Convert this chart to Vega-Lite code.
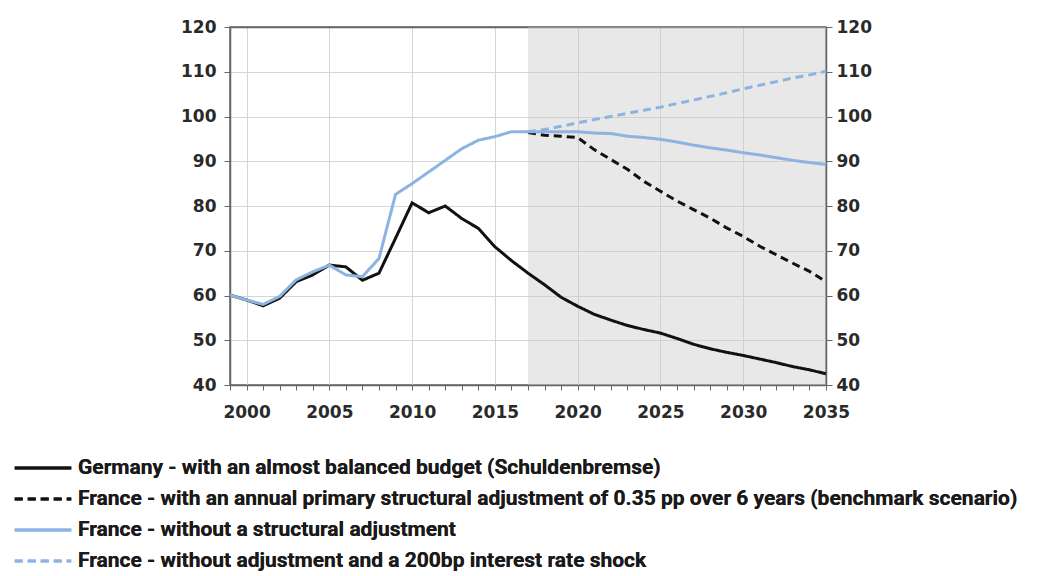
{
  "$schema": "https://vega.github.io/schema/vega-lite/v6.json",
  "width": 596,
  "height": 358,
  "autosize": {"type": "none"},
  "padding": {"left": 230, "top": 27, "right": 215, "bottom": 191},
  "background": "white",
  "config": {
    "view": {"stroke": "#666666", "strokeWidth": 1.5},
    "font": "DejaVu Sans",
    "axis": {
      "labelFont": "DejaVu Sans",
      "labelFontSize": 17,
      "labelFontWeight": "bold",
      "labelColor": "#2a2a2a",
      "domainColor": "#666666",
      "domainWidth": 1.5,
      "tickColor": "#666666",
      "gridColor": "#d6d6d6",
      "gridWidth": 1,
      "title": null
    },
    "legend": {
      "orient": "none",
      "legendX": -203,
      "legendY": 425,
      "direction": "vertical",
      "title": null,
      "symbolType": "M-2,0H2",
      "symbolSize": 800,
      "symbolStrokeWidth": 3,
      "labelFont": "Roboto",
      "labelFontSize": 21,
      "labelFontWeight": "bold",
      "labelColor": "#1a1a1a",
      "labelLimit": 1200,
      "labelOffset": 19,
      "rowPadding": 5
    }
  },
  "datasets": {
    "shade": [{"start": 2017, "end": 2035}],
    "debt": [
      {"year": 1999, "series": "Germany - with an almost balanced budget (Schuldenbremse)", "value": 60.1},
      {"year": 2000, "series": "Germany - with an almost balanced budget (Schuldenbremse)", "value": 59.0},
      {"year": 2001, "series": "Germany - with an almost balanced budget (Schuldenbremse)", "value": 57.7},
      {"year": 2002, "series": "Germany - with an almost balanced budget (Schuldenbremse)", "value": 59.4},
      {"year": 2003, "series": "Germany - with an almost balanced budget (Schuldenbremse)", "value": 63.1},
      {"year": 2004, "series": "Germany - with an almost balanced budget (Schuldenbremse)", "value": 64.6},
      {"year": 2005, "series": "Germany - with an almost balanced budget (Schuldenbremse)", "value": 66.8},
      {"year": 2006, "series": "Germany - with an almost balanced budget (Schuldenbremse)", "value": 66.4},
      {"year": 2007, "series": "Germany - with an almost balanced budget (Schuldenbremse)", "value": 63.4},
      {"year": 2008, "series": "Germany - with an almost balanced budget (Schuldenbremse)", "value": 65.0},
      {"year": 2009, "series": "Germany - with an almost balanced budget (Schuldenbremse)", "value": 72.8},
      {"year": 2010, "series": "Germany - with an almost balanced budget (Schuldenbremse)", "value": 80.7},
      {"year": 2011, "series": "Germany - with an almost balanced budget (Schuldenbremse)", "value": 78.5},
      {"year": 2012, "series": "Germany - with an almost balanced budget (Schuldenbremse)", "value": 80.0},
      {"year": 2013, "series": "Germany - with an almost balanced budget (Schuldenbremse)", "value": 77.2},
      {"year": 2014, "series": "Germany - with an almost balanced budget (Schuldenbremse)", "value": 75.0},
      {"year": 2015, "series": "Germany - with an almost balanced budget (Schuldenbremse)", "value": 70.9},
      {"year": 2016, "series": "Germany - with an almost balanced budget (Schuldenbremse)", "value": 67.8},
      {"year": 2017, "series": "Germany - with an almost balanced budget (Schuldenbremse)", "value": 65.0},
      {"year": 2018, "series": "Germany - with an almost balanced budget (Schuldenbremse)", "value": 62.4},
      {"year": 2019, "series": "Germany - with an almost balanced budget (Schuldenbremse)", "value": 59.6},
      {"year": 2020, "series": "Germany - with an almost balanced budget (Schuldenbremse)", "value": 57.6},
      {"year": 2021, "series": "Germany - with an almost balanced budget (Schuldenbremse)", "value": 55.8},
      {"year": 2022, "series": "Germany - with an almost balanced budget (Schuldenbremse)", "value": 54.5},
      {"year": 2023, "series": "Germany - with an almost balanced budget (Schuldenbremse)", "value": 53.3},
      {"year": 2024, "series": "Germany - with an almost balanced budget (Schuldenbremse)", "value": 52.4},
      {"year": 2025, "series": "Germany - with an almost balanced budget (Schuldenbremse)", "value": 51.6},
      {"year": 2026, "series": "Germany - with an almost balanced budget (Schuldenbremse)", "value": 50.4},
      {"year": 2027, "series": "Germany - with an almost balanced budget (Schuldenbremse)", "value": 49.1},
      {"year": 2028, "series": "Germany - with an almost balanced budget (Schuldenbremse)", "value": 48.1},
      {"year": 2029, "series": "Germany - with an almost balanced budget (Schuldenbremse)", "value": 47.3},
      {"year": 2030, "series": "Germany - with an almost balanced budget (Schuldenbremse)", "value": 46.6},
      {"year": 2031, "series": "Germany - with an almost balanced budget (Schuldenbremse)", "value": 45.8},
      {"year": 2032, "series": "Germany - with an almost balanced budget (Schuldenbremse)", "value": 45.0},
      {"year": 2033, "series": "Germany - with an almost balanced budget (Schuldenbremse)", "value": 44.1},
      {"year": 2034, "series": "Germany - with an almost balanced budget (Schuldenbremse)", "value": 43.4},
      {"year": 2035, "series": "Germany - with an almost balanced budget (Schuldenbremse)", "value": 42.5},
      {"year": 2017, "series": "France - with an annual primary structural adjustment of 0.35 pp over 6 years (benchmark scenario)", "value": 96.4},
      {"year": 2018, "series": "France - with an annual primary structural adjustment of 0.35 pp over 6 years (benchmark scenario)", "value": 95.8},
      {"year": 2019, "series": "France - with an annual primary structural adjustment of 0.35 pp over 6 years (benchmark scenario)", "value": 95.6},
      {"year": 2020, "series": "France - with an annual primary structural adjustment of 0.35 pp over 6 years (benchmark scenario)", "value": 95.3},
      {"year": 2021, "series": "France - with an annual primary structural adjustment of 0.35 pp over 6 years (benchmark scenario)", "value": 92.6},
      {"year": 2022, "series": "France - with an annual primary structural adjustment of 0.35 pp over 6 years (benchmark scenario)", "value": 90.4},
      {"year": 2023, "series": "France - with an annual primary structural adjustment of 0.35 pp over 6 years (benchmark scenario)", "value": 88.2},
      {"year": 2024, "series": "France - with an annual primary structural adjustment of 0.35 pp over 6 years (benchmark scenario)", "value": 85.5},
      {"year": 2025, "series": "France - with an annual primary structural adjustment of 0.35 pp over 6 years (benchmark scenario)", "value": 83.3},
      {"year": 2026, "series": "France - with an annual primary structural adjustment of 0.35 pp over 6 years (benchmark scenario)", "value": 81.1},
      {"year": 2027, "series": "France - with an annual primary structural adjustment of 0.35 pp over 6 years (benchmark scenario)", "value": 79.2},
      {"year": 2028, "series": "France - with an annual primary structural adjustment of 0.35 pp over 6 years (benchmark scenario)", "value": 77.3},
      {"year": 2029, "series": "France - with an annual primary structural adjustment of 0.35 pp over 6 years (benchmark scenario)", "value": 75.1},
      {"year": 2030, "series": "France - with an annual primary structural adjustment of 0.35 pp over 6 years (benchmark scenario)", "value": 73.2},
      {"year": 2031, "series": "France - with an annual primary structural adjustment of 0.35 pp over 6 years (benchmark scenario)", "value": 71.0},
      {"year": 2032, "series": "France - with an annual primary structural adjustment of 0.35 pp over 6 years (benchmark scenario)", "value": 69.1},
      {"year": 2033, "series": "France - with an annual primary structural adjustment of 0.35 pp over 6 years (benchmark scenario)", "value": 67.2},
      {"year": 2034, "series": "France - with an annual primary structural adjustment of 0.35 pp over 6 years (benchmark scenario)", "value": 65.4},
      {"year": 2035, "series": "France - with an annual primary structural adjustment of 0.35 pp over 6 years (benchmark scenario)", "value": 63.1},
      {"year": 1999, "series": "France - without a structural adjustment", "value": 60.1},
      {"year": 2000, "series": "France - without a structural adjustment", "value": 59.0},
      {"year": 2001, "series": "France - without a structural adjustment", "value": 58.0},
      {"year": 2002, "series": "France - without a structural adjustment", "value": 59.8},
      {"year": 2003, "series": "France - without a structural adjustment", "value": 63.5},
      {"year": 2004, "series": "France - without a structural adjustment", "value": 65.3},
      {"year": 2005, "series": "France - without a structural adjustment", "value": 66.8},
      {"year": 2006, "series": "France - without a structural adjustment", "value": 64.6},
      {"year": 2007, "series": "France - without a structural adjustment", "value": 64.2},
      {"year": 2008, "series": "France - without a structural adjustment", "value": 68.3},
      {"year": 2009, "series": "France - without a structural adjustment", "value": 82.6},
      {"year": 2010, "series": "France - without a structural adjustment", "value": 85.0},
      {"year": 2011, "series": "France - without a structural adjustment", "value": 87.6},
      {"year": 2012, "series": "France - without a structural adjustment", "value": 90.2},
      {"year": 2013, "series": "France - without a structural adjustment", "value": 92.8},
      {"year": 2014, "series": "France - without a structural adjustment", "value": 94.7},
      {"year": 2015, "series": "France - without a structural adjustment", "value": 95.5},
      {"year": 2016, "series": "France - without a structural adjustment", "value": 96.6},
      {"year": 2017, "series": "France - without a structural adjustment", "value": 96.6},
      {"year": 2018, "series": "France - without a structural adjustment", "value": 96.6},
      {"year": 2019, "series": "France - without a structural adjustment", "value": 96.6},
      {"year": 2020, "series": "France - without a structural adjustment", "value": 96.6},
      {"year": 2021, "series": "France - without a structural adjustment", "value": 96.3},
      {"year": 2022, "series": "France - without a structural adjustment", "value": 96.2},
      {"year": 2023, "series": "France - without a structural adjustment", "value": 95.6},
      {"year": 2024, "series": "France - without a structural adjustment", "value": 95.3},
      {"year": 2025, "series": "France - without a structural adjustment", "value": 94.9},
      {"year": 2026, "series": "France - without a structural adjustment", "value": 94.3},
      {"year": 2027, "series": "France - without a structural adjustment", "value": 93.6},
      {"year": 2028, "series": "France - without a structural adjustment", "value": 93.0},
      {"year": 2029, "series": "France - without a structural adjustment", "value": 92.5},
      {"year": 2030, "series": "France - without a structural adjustment", "value": 91.9},
      {"year": 2031, "series": "France - without a structural adjustment", "value": 91.4},
      {"year": 2032, "series": "France - without a structural adjustment", "value": 90.8},
      {"year": 2033, "series": "France - without a structural adjustment", "value": 90.2},
      {"year": 2034, "series": "France - without a structural adjustment", "value": 89.7},
      {"year": 2035, "series": "France - without a structural adjustment", "value": 89.3},
      {"year": 2017, "series": "France - without adjustment and a 200bp interest rate shock", "value": 96.6},
      {"year": 2018, "series": "France - without adjustment and a 200bp interest rate shock", "value": 97.1},
      {"year": 2019, "series": "France - without adjustment and a 200bp interest rate shock", "value": 97.8},
      {"year": 2020, "series": "France - without adjustment and a 200bp interest rate shock", "value": 98.6},
      {"year": 2021, "series": "France - without adjustment and a 200bp interest rate shock", "value": 99.3},
      {"year": 2022, "series": "France - without adjustment and a 200bp interest rate shock", "value": 100.0},
      {"year": 2023, "series": "France - without adjustment and a 200bp interest rate shock", "value": 100.7},
      {"year": 2024, "series": "France - without adjustment and a 200bp interest rate shock", "value": 101.4},
      {"year": 2025, "series": "France - without adjustment and a 200bp interest rate shock", "value": 102.1},
      {"year": 2026, "series": "France - without adjustment and a 200bp interest rate shock", "value": 102.9},
      {"year": 2027, "series": "France - without adjustment and a 200bp interest rate shock", "value": 103.7},
      {"year": 2028, "series": "France - without adjustment and a 200bp interest rate shock", "value": 104.5},
      {"year": 2029, "series": "France - without adjustment and a 200bp interest rate shock", "value": 105.3},
      {"year": 2030, "series": "France - without adjustment and a 200bp interest rate shock", "value": 106.2},
      {"year": 2031, "series": "France - without adjustment and a 200bp interest rate shock", "value": 107.0},
      {"year": 2032, "series": "France - without adjustment and a 200bp interest rate shock", "value": 107.8},
      {"year": 2033, "series": "France - without adjustment and a 200bp interest rate shock", "value": 108.6},
      {"year": 2034, "series": "France - without adjustment and a 200bp interest rate shock", "value": 109.3},
      {"year": 2035, "series": "France - without adjustment and a 200bp interest rate shock", "value": 110.1}
    ]
  },
  "layer": [
    {
      "data": {"name": "shade"},
      "mark": {"type": "rect", "color": "#c8c8c8", "opacity": 0.42},
      "encoding": {
        "x": {
          "field": "start",
          "type": "quantitative",
          "scale": {"domain": [1999, 2035], "nice": false, "zero": false},
          "axis": {
            "orient": "top",
            "values": [2000, 2005, 2010, 2015, 2020, 2025, 2030, 2035],
            "grid": true,
            "labels": false,
            "ticks": false,
            "domain": true
          }
        },
        "x2": {"field": "end"}
      }
    },
    {
      "data": {"name": "debt"},
      "mark": {"type": "line", "strokeWidth": 3},
      "encoding": {
        "x": {
          "field": "year",
          "type": "quantitative",
          "axis": {
            "orient": "bottom",
            "values": [1999, 2000, 2001, 2002, 2003, 2004, 2005, 2006, 2007, 2008, 2009, 2010, 2011, 2012, 2013, 2014, 2015, 2016, 2017, 2018, 2019, 2020, 2021, 2022, 2023, 2024, 2025, 2026, 2027, 2028, 2029, 2030, 2031, 2032, 2033, 2034, 2035],
            "format": "d",
            "labelExpr": "datum.value % 5 == 0 ? datum.label : ''",
            "labelOverlap": false,
            "labelFlush": false,
            "grid": false,
            "tickSize": 5,
            "labelPadding": 14
          }
        },
        "y": {
          "field": "value",
          "type": "quantitative",
          "scale": {"domain": [40, 120], "nice": false, "zero": false},
          "axis": {
            "orient": "left",
            "values": [40, 50, 60, 70, 80, 90, 100, 110, 120],
            "grid": true,
            "tickSize": 6,
            "labelPadding": 8
          }
        },
        "color": {
          "field": "series",
          "type": "nominal",
          "sort": [
            "Germany - with an almost balanced budget (Schuldenbremse)",
            "France - with an annual primary structural adjustment of 0.35 pp over 6 years (benchmark scenario)",
            "France - without a structural adjustment",
            "France - without adjustment and a 200bp interest rate shock"
          ],
          "scale": {"range": ["#111111", "#111111", "#8db3e2", "#8db3e2"]},
          "legend": {
            "encode": {
              "symbols": {
                "update": {
                  "stroke": {"scale": "color", "field": "value"},
                  "strokeDash": {"scale": "strokeDash", "field": "value"}
                }
              }
            }
          }
        },
        "strokeDash": {
          "field": "series",
          "type": "nominal",
          "sort": [
            "Germany - with an almost balanced budget (Schuldenbremse)",
            "France - with an annual primary structural adjustment of 0.35 pp over 6 years (benchmark scenario)",
            "France - without a structural adjustment",
            "France - without adjustment and a 200bp interest rate shock"
          ],
          "scale": {"range": [[1, 0], [8, 5], [1, 0], [8, 5]]},
          "legend": {
            "encode": {
              "symbols": {
                "update": {
                  "stroke": {"scale": "color", "field": "value"},
                  "strokeDash": {"scale": "strokeDash", "field": "value"}
                }
              }
            }
          }
        },
        "order": {"field": "year"}
      }
    },
    {
      "data": {"name": "debt"},
      "mark": {"type": "point", "opacity": 0},
      "encoding": {
        "x": {"field": "year", "type": "quantitative", "axis": null},
        "y": {
          "field": "value",
          "type": "quantitative",
          "axis": {
            "orient": "right",
            "values": [40, 50, 60, 70, 80, 90, 100, 110, 120],
            "grid": false,
            "tickSize": 6,
            "labelPadding": 4
          }
        }
      }
    }
  ],
  "resolve": {"axis": {"x": "independent", "y": "independent"}}
}
